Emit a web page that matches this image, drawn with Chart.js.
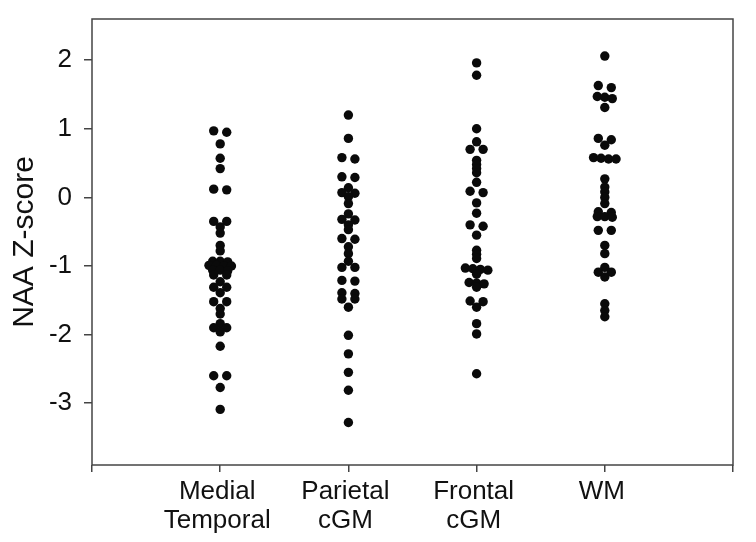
<!DOCTYPE html>
<html><head><meta charset="utf-8">
<script src="https://cdn.jsdelivr.net/npm/chart.js@4"></script>
<style>html,body{margin:0;padding:0;background:#fff}#wrap{width:756px;height:542px}</style>
</head><body><div id="wrap"><canvas id="c" width="756" height="542"></canvas></div>
<script>
// ---- data ----
const categories = [["Medial", "Temporal"], ["Parietal", "cGM"], ["Frontal", "cGM"], ["WM"]];
const yTickValues = [-3, -2, -1, 0, 1, 2];
const yAxisTitle = "NAA Z-score";

const medialTemporal = [0.97, 0.95, 0.78, 0.57, 0.42, 0.12, 0.11, -0.35, -0.35, -0.43, -0.52, -0.70, -0.78,
  -0.93, -0.93, -0.94, -0.99, -0.99, -1.00, -1.00, -1.06, -1.06, -1.07, -1.13, -1.13, -1.23, -1.31, -1.31,
  -1.39, -1.52, -1.52, -1.62, -1.70, -1.84, -1.90, -1.90, -1.96, -2.17, -2.60, -2.60, -2.77, -3.09];
const parietalCGM = [1.20, 0.86, 0.58, 0.56, 0.30, 0.29, 0.14, 0.07, 0.06, 0.01, -0.09, -0.24, -0.32, -0.33,
  -0.40, -0.47, -0.60, -0.61, -0.72, -0.82, -0.93, -1.02, -1.02, -1.21, -1.22, -1.39, -1.40, -1.48, -1.48,
  -1.60, -2.01, -2.28, -2.55, -2.81, -3.28];
const frontalCGM = [1.96, 1.78, 1.00, 0.81, 0.70, 0.70, 0.54, 0.48, 0.42, 0.36, 0.22, 0.09, 0.07, -0.08,
  -0.23, -0.40, -0.42, -0.55, -0.77, -0.83, -0.89, -1.03, -1.04, -1.05, -1.06, -1.12, -1.24, -1.25, -1.26,
  -1.31, -1.51, -1.52, -1.60, -1.84, -1.99, -2.57];
const whiteMatter = [2.06, 1.63, 1.60, 1.47, 1.46, 1.44, 1.31, 0.86, 0.84, 0.76, 0.58, 0.57, 0.56, 0.56,
  0.27, 0.15, 0.08, 0.00, -0.09, -0.21, -0.22, -0.28, -0.28, -0.29, -0.48, -0.48, -0.70, -0.82, -1.02,
  -1.09, -1.09, -1.16, -1.55, -1.65, -1.74];

const seriesList = [medialTemporal, parietalCGM, frontalCGM, whiteMatter];

// ---- styling ----
const FONT = "'Liberation Sans', Arial, Helvetica, sans-serif";
const INK = '#111';
const AXIS = '#444';

// Dot-plot layout: near-equal values sit side by side, others stack on the centre line.
function spread(values, center, xScale) {
  const pxPerUnit = Math.abs(xScale.getPixelForValue(1) - xScale.getPixelForValue(0));
  const sorted = values.slice().sort((a, b) => b - a);
  const rows = [];
  sorted.forEach(v => {
    const last = rows[rows.length - 1];
    if (last && Math.abs(last[0] - v) <= 0.045) last.push(v); else rows.push([v]);
  });
  const pts = [];
  rows.forEach(r => {
    const gap = (r.length <= 2 ? 13 : 7.5) / pxPerUnit;
    r.forEach((v, i) => pts.push({ x: center + (i - (r.length - 1) / 2) * gap, y: v }));
  });
  return pts;
}

const framePlugin = {
  id: 'frame',
  afterDraw(chart) {
    const { ctx, chartArea: a } = chart;
    ctx.save();
    ctx.strokeStyle = AXIS;
    ctx.lineWidth = 1.5;
    ctx.strokeRect(a.left, a.top, a.right - a.left, a.bottom - a.top);
    ctx.restore();
  }
};

const chart = new Chart(document.getElementById('c').getContext('2d'), {
  type: 'scatter',
  data: {
    datasets: seriesList.map((vals, i) => ({
      data: vals.map(v => ({ x: i + 1, y: v })),
      pointRadius: 4.7,
      pointHoverRadius: 4.7,
      pointBackgroundColor: '#0a0a0a',
      pointBorderWidth: 0,
      showLine: false
    }))
  },
  options: {
    responsive: false,
    animation: false,
    devicePixelRatio: 1,
    layout: { padding: { top: 19, right: 23, bottom: 0, left: 0 }, autoPadding: false },
    plugins: { legend: { display: false }, tooltip: { enabled: false } },
    scales: {
      x: {
        type: 'linear', min: 0, max: 5,
        afterBuildTicks: s => { s.ticks = [0, 1, 2, 3, 4, 5].map(v => ({ value: v })); },
        afterFit: s => { s.height = 77; s.paddingLeft = 0; s.paddingRight = 0; },
        border: { display: false },
        grid: { drawOnChartArea: false, drawTicks: true, tickLength: 7, color: AXIS, lineWidth: 1.5 },
        ticks: {
          autoSkip: false, maxRotation: 0, padding: 5, color: INK, labelOffset: -3,
          font: { family: FONT, size: 26, lineHeight: 1.12 },
          callback: v => categories[v - 1] || ''
        }
      },
      y: {
        type: 'linear', min: -3.9, max: 2.6,
        afterBuildTicks: s => { s.ticks = yTickValues.map(v => ({ value: v })); },
        afterFit: s => { s.width = 92; s.paddingTop = 0; s.paddingBottom = 0; },
        border: { display: false },
        grid: { drawOnChartArea: false, drawTicks: true, tickLength: 8, color: AXIS, lineWidth: 1.5 },
        ticks: { padding: 12, color: INK, font: { family: FONT, size: 26 } },
        title: { display: true, text: yAxisTitle, color: INK, font: { family: FONT, size: 30 }, padding: { top: 7, bottom: 0 } }
      }
    }
  },
  plugins: [framePlugin]
});

chart.data.datasets.forEach((ds, i) => { ds.data = spread(seriesList[i], i + 1, chart.scales.x); });
chart.update('none');
</script>
</body></html>
